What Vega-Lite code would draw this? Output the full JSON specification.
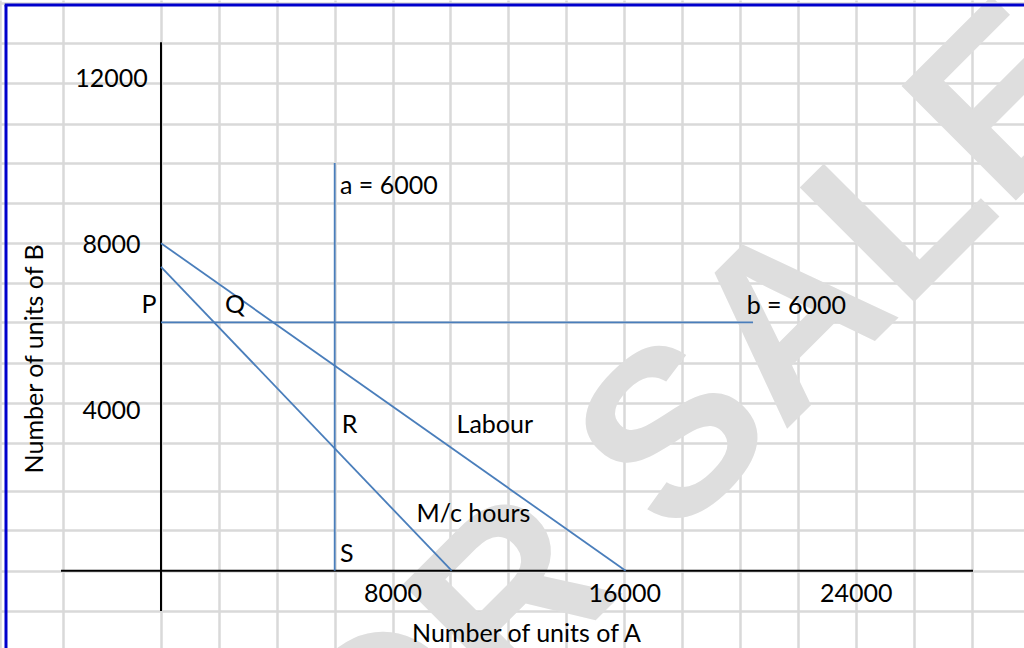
{
  "$schema": "https://vega.github.io/schema/vega-lite/v6.json",
  "width": 1024,
  "height": 648,
  "autosize": "none",
  "padding": 0,
  "background": "white",
  "config": {"view": {"stroke": null}, "font": "Lato"},
  "datasets": {
    "watermark": [{"text": "FOR SALE", "units_A": 18460, "units_B": 1210}],
    "lines": [
      {"series": "Labour", "pt": 1, "units_A": 0, "units_B": 7910},
      {"series": "Labour", "pt": 2, "units_A": 16050, "units_B": 0},
      {"series": "M/c hours", "pt": 1, "units_A": 0, "units_B": 7340},
      {"series": "M/c hours", "pt": 2, "units_A": 10040, "units_B": 0},
      {"series": "a = 6000", "pt": 1, "units_A": 6000, "units_B": 0},
      {"series": "a = 6000", "pt": 2, "units_A": 6000, "units_B": 9850},
      {"series": "b = 6000", "pt": 1, "units_A": 0, "units_B": 6000},
      {"series": "b = 6000", "pt": 2, "units_A": 20450, "units_B": 6000}
    ],
    "labels": [
      {"text": "a = 6000", "units_A": 6180, "units_B": 9090},
      {"text": "b = 6000", "units_A": 20230, "units_B": 6200},
      {"text": "P", "units_A": -670, "units_B": 6220},
      {"text": "Q", "units_A": 2210, "units_B": 6220},
      {"text": "R", "units_A": 6240, "units_B": 3320},
      {"text": "Labour", "units_A": 10210, "units_B": 3320},
      {"text": "M/c hours", "units_A": 8830, "units_B": 1180},
      {"text": "S", "units_A": 6180, "units_B": 220}
    ]
  },
  "layer": [
    {
      "data": {"name": "watermark"},
      "mark": {"type": "text", "angle": 315, "fontSize": 235, "fontWeight": "bold", "font": "Liberation Sans", "color": "#dedede", "align": "center", "baseline": "alphabetic"},
      "encoding": {
        "x": {"field": "units_A", "type": "quantitative",
          "scale": {"domain": [-5561, 29810], "nice": false, "zero": false},
          "axis": {"orient": "top", "values": [-5545, -3390, 0, 2000, 4000, 6000, 8000, 10000, 12000, 14000, 16000, 18000, 20000, 22000, 24000, 26000, 28000],
            "grid": true, "gridColor": "#d9d9d9", "gridWidth": 2.5, "labels": false, "ticks": false, "domain": false, "title": null, "zindex": 0}},
        "y": {"field": "units_B", "type": "quantitative",
          "scale": {"domain": [-1867, 13785], "nice": false, "zero": false},
          "axis": {"orient": "right", "values": [13713, 12739, 11773, 10790, 9841, 8889, 7908, 6957, 6000, 5010, 4043, 3077, 1932, 983, 0, -973],
            "grid": true, "gridColor": "#d9d9d9", "gridWidth": 2.5, "labels": false, "ticks": false, "domain": false, "title": null, "zindex": 0}},
        "text": {"field": "text"}
      }
    },
    {
      "data": {"values": [{}]},
      "mark": {"type": "rule", "color": "#0000cc", "strokeWidth": 3},
      "encoding": {
        "x": {"datum": -5354, "type": "quantitative", "axis": null},
        "y": {"datum": -1867, "type": "quantitative", "axis": null},
        "y2": {"datum": 13664}
      }
    },
    {
      "data": {"values": [{}]},
      "mark": {"type": "rule", "color": "#0000cc", "strokeWidth": 3},
      "encoding": {
        "x": {"datum": -5400, "type": "quantitative", "axis": null},
        "x2": {"datum": 29810},
        "y": {"datum": 13664, "type": "quantitative", "axis": null}
      }
    },
    {
      "data": {"values": [{}]},
      "mark": {"type": "rule", "color": "black", "strokeWidth": 2},
      "encoding": {
        "x": {"datum": 0, "type": "quantitative", "axis": null},
        "y": {"datum": -973, "type": "quantitative", "axis": null},
        "y2": {"datum": 12763}
      }
    },
    {
      "data": {"values": [{}]},
      "mark": {"type": "rule", "color": "black", "strokeWidth": 2},
      "encoding": {
        "x": {"datum": -3454, "type": "quantitative", "axis": null},
        "x2": {"datum": 28048},
        "y": {"datum": 0, "type": "quantitative", "axis": null}
      }
    },
    {
      "data": {"name": "lines"},
      "mark": {"type": "line", "color": "#4a7ebb", "strokeWidth": 1.8},
      "encoding": {
        "x": {"field": "units_A", "type": "quantitative",
          "axis": {"orient": "bottom", "values": [8000, 16000, 24000], "format": "d", "grid": false, "domain": false, "ticks": false, "tickSize": 0,
            "labelPadding": 30.7, "labelBaseline": "alphabetic", "labelFont": "Lato", "labelFontSize": 25, "labelColor": "black", "labelFlush": false, "labelOverlap": false,
            "offset": -77, "title": "Number of units of A", "titleFont": "Lato", "titleFontSize": 25, "titleFontWeight": "normal", "titleColor": "black",
            "titleX": 526, "titleY": 70.7, "titleAlign": "center", "titleBaseline": "alphabetic", "zindex": 1}},
        "y": {"field": "units_B", "type": "quantitative",
          "axis": {"orient": "left", "values": [4000, 8000, 12000], "format": "d", "grid": false, "domain": false, "ticks": false, "tickSize": 0,
            "labelPadding": 50, "labelAlign": "center", "labelBaseline": "middle", "labelOffset": 5, "labelFont": "Lato", "labelFontSize": 25, "labelColor": "black", "labelFlush": false, "labelOverlap": false,
            "offset": -161, "title": "Number of units of B", "titleFont": "Lato", "titleFontSize": 25, "titleFontWeight": "normal", "titleColor": "black",
            "titleAngle": 270, "titleX": -118.3, "titleY": 358.4, "titleAlign": "center", "titleBaseline": "alphabetic", "zindex": 1}},
        "detail": {"field": "series"},
        "order": {"field": "pt"}
      }
    },
    {
      "data": {"name": "labels"},
      "mark": {"type": "text", "font": "Lato", "fontSize": 25, "color": "black", "align": "left", "baseline": "alphabetic"},
      "encoding": {
        "x": {"field": "units_A", "type": "quantitative", "axis": null},
        "y": {"field": "units_B", "type": "quantitative", "axis": null},
        "text": {"field": "text"}
      }
    }
  ],
  "resolve": {"axis": {"x": "independent", "y": "independent"}}
}
